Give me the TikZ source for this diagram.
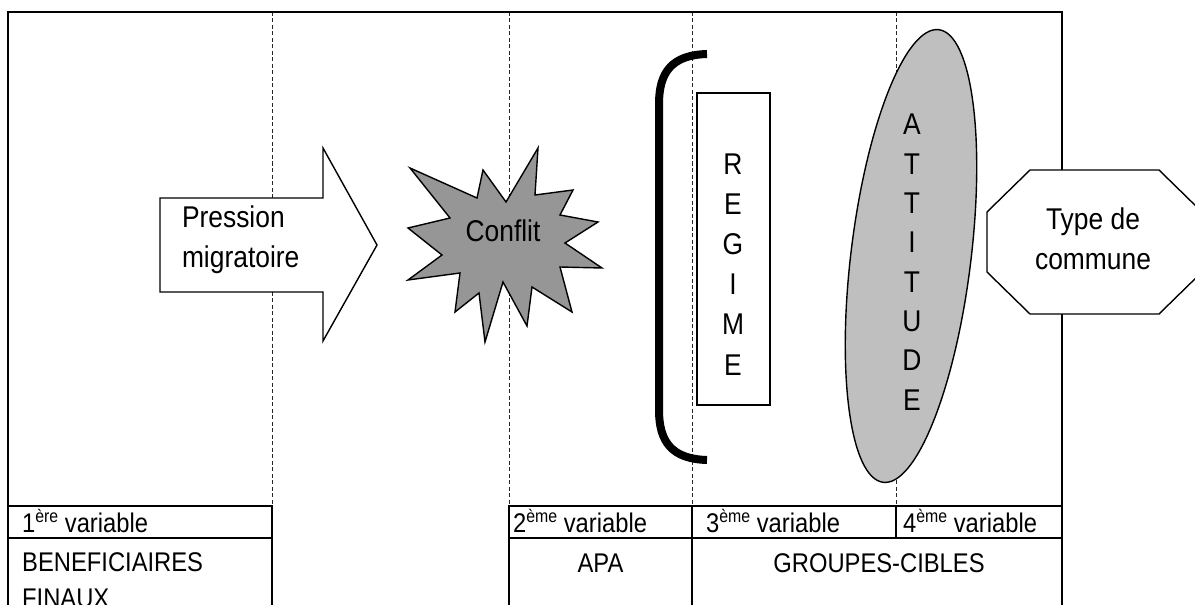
\documentclass[tikz,border=0pt]{standalone}
\usepackage{fontspec}
\setmainfont{Liberation Sans}[FakeStretch=0.88]
\newcommand{\supx}[1]{\raisebox{0.36em}{\fontsize{18bp}{20bp}\selectfont #1}}
\begin{document}
\begin{tikzpicture}[x=1bp,y=-1bp,
  frameline/.style={line width=2.2bp, line cap=rect},
  guide/.style={dash pattern=on 4bp off 2.5bp, line width=0.8bp, black!85},
  outline/.style={line width=1.4bp, line join=miter},
  lbl/.style={font=\fontsize{30bp}{40bp}\selectfont, inner sep=0pt, outer sep=0pt},
  vletter/.style={font=\fontsize{30bp}{36bp}\selectfont, inner sep=0pt, anchor=base},
  tbl/.style={font=\fontsize{27bp}{36bp}\selectfont, inner sep=0pt, anchor=base west},
  tblc/.style={font=\fontsize{27bp}{36bp}\selectfont, inner sep=0pt, anchor=base}]
\useasboundingbox (0,0) rectangle (1195,605);
\clip (0,0) rectangle (1195,605);
\fill[white] (0,0) rectangle (1195,605);

% dashed column guides
\draw[guide] (272,12) -- (272,506);
\draw[guide] (509,12) -- (509,506);
\draw[guide] (692,12) -- (692,506);
\draw[guide] (896,12) -- (896,506);

% outer frame
\draw[frameline] (8,615) -- (8,12) -- (1062,12) -- (1062,615);

% bottom tables
\draw[frameline] (8,506) -- (272,506);
\draw[frameline] (8,538) -- (272,538);
\draw[frameline] (272,506) -- (272,615);
\draw[frameline] (509,506) -- (1062,506);
\draw[frameline] (509,538) -- (1062,538);
\draw[frameline] (509,506) -- (509,615);
\draw[frameline] (692,506) -- (692,615);
\draw[frameline] (896,506) -- (896,538);

% arrow
\draw[outline, fill=white] (160,198) -- (323,198) -- (323,148) -- (377,245) -- (323,341) -- (323,292) -- (160,292) -- cycle;
\node[lbl, anchor=west, align=left] (pression) at (182,239.5) {Pression\\migratoire};

% star
\draw[outline, fill=black!41] (410,168) -- (477,198) -- (483,170) -- (506,202) -- (538,148) -- (535,195)
  -- (573,190) -- (560,215) -- (598,222) -- (565,243) -- (602,268) -- (560,267)
  -- (572,312) -- (532,287) -- (527,326) -- (503,282) -- (485,342) -- (479,293)
  -- (455,312) -- (460,273) -- (408,280) -- (442,255) -- (408,228) -- (450,218) -- cycle;
\node[lbl, anchor=base] (conflit) at (503,242) {Conflit};

% bracket
\draw[line width=8bp] (707,54) .. controls (672,55) and (659,72) .. (659,104) -- (659,410) .. controls (659,442) and (672,459) .. (707,460);

% REGIME box
\draw[outline] (697,93) rectangle (770,405);
\node[vletter] (r1) at (733,175) {R};
\node[vletter] (r2) at (733,215) {E};
\node[vletter] (r3) at (733,255) {G};
\node[vletter] (r4) at (733,295) {I};
\node[vletter] (r5) at (733,335) {M};
\node[vletter] (r6) at (733,375) {E};

% ATTITUDE ellipse
\draw[outline, fill=black!25, rotate around={-7:(911,256)}] (911,256) ellipse [x radius=60, y radius=228];
\node[vletter] (a1) at (912,135) {A};
\node[vletter] (a2) at (912,174.3) {T};
\node[vletter] (a3) at (912,213.6) {T};
\node[vletter] (a4) at (912,252.9) {I};
\node[vletter] (a5) at (912,292.2) {T};
\node[vletter] (a6) at (912,331.5) {U};
\node[vletter] (a7) at (912,370.8) {D};
\node[vletter] (a8) at (912,410) {E};

% octagon
\draw[outline, fill=white] (1030,170) -- (1159,170) -- (1202,212) -- (1202,272) -- (1159,314) -- (1030,314) -- (987,272) -- (987,212) -- cycle;
\node[lbl, align=center] (type) at (1093,239) {Type de\\commune};

% table texts
\node[tbl] (v1) at (22,532) {1\supx{ère} variable};
\node[tbl] (benef) at (22,571) {BENEFICIAIRES};
\node[tbl] (finaux) at (22,607) {FINAUX};
\node[tbl] (v2) at (513,532) {2\supx{ème} variable};
\node[tbl] (v3) at (706,532) {3\supx{ème} variable};
\node[tbl] (v4) at (903,532) {4\supx{ème} variable};
\node[tblc] (apa) at (600.5,572) {APA};
\node[tblc] (groupes) at (879,572) {GROUPES-CIBLES};
\end{tikzpicture}
\end{document}
